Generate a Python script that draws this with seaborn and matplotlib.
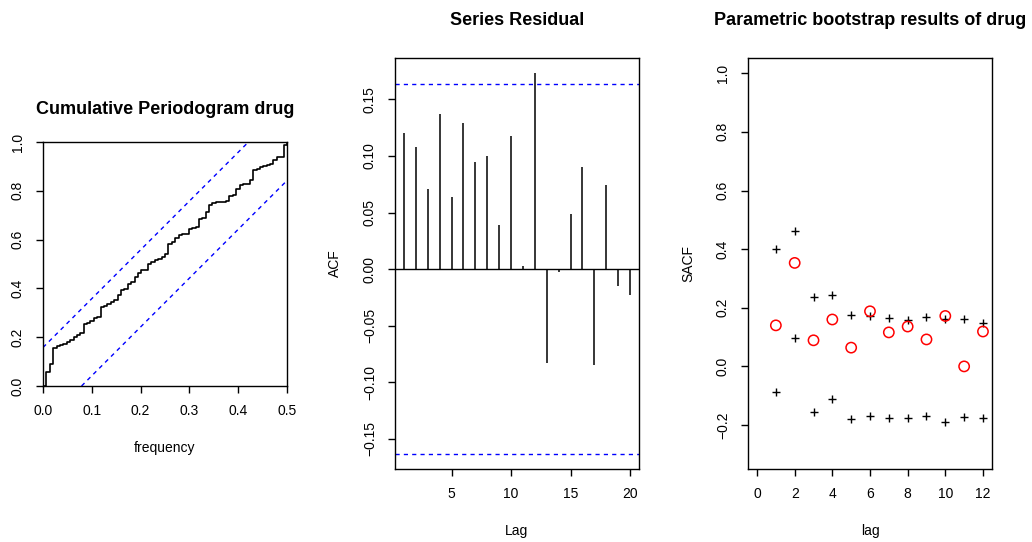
import numpy as np
import pandas as pd
import seaborn as sns
import matplotlib
matplotlib.use('Agg')
import matplotlib.pyplot as plt

# cumulative periodogram (n = 144 -> 72 Fourier frequencies)
n_obs = 144
cum_pgram = [0.059, 0.090, 0.155, 0.162, 0.168, 0.174, 0.180, 0.187, 0.200, 0.208,
             0.216, 0.255, 0.258, 0.268, 0.277, 0.283, 0.323, 0.327, 0.338, 0.346,
             0.352, 0.372, 0.395, 0.397, 0.418, 0.425, 0.448, 0.462, 0.474, 0.476,
             0.500, 0.508, 0.515, 0.522, 0.528, 0.543, 0.580, 0.592, 0.608, 0.617,
             0.622, 0.625, 0.645, 0.648, 0.650, 0.686, 0.690, 0.715, 0.743, 0.750,
             0.753, 0.754, 0.755, 0.757, 0.780, 0.782, 0.806, 0.822, 0.826, 0.828,
             0.845, 0.884, 0.888, 0.896, 0.900, 0.904, 0.908, 0.925, 0.937, 0.940,
             0.988, 1.000]
crit = 0.158

# residual ACF
acf_lags = list(range(1, 21))
acf_vals = [0.120, 0.108, 0.071, 0.137, 0.064, 0.129, 0.095, 0.100, 0.039, 0.118,
            0.003, 0.173, -0.083, -0.003, 0.049, 0.090, -0.085, 0.074, -0.015, -0.023]
acf_clim = 0.1634

# parametric bootstrap SACF
boot_lags = list(range(1, 13))
boot_upper = [0.400, 0.461, 0.236, 0.243, 0.175, 0.172, 0.165, 0.159, 0.169, 0.163, 0.161, 0.149]
boot_lower = [-0.088, 0.097, -0.156, -0.111, -0.180, -0.170, -0.176, -0.176, -0.169, -0.190, -0.173, -0.176]
boot_obs = [0.140, 0.353, 0.089, 0.160, 0.064, 0.188, 0.116, 0.136, 0.092, 0.172, 0.000, 0.119]

sns.set_style("ticks")
plt.rcParams['font.family'] = ['Liberation Sans', 'DejaVu Sans']
plt.rcParams['axes.linewidth'] = 1.0
plt.rcParams['xtick.major.width'] = 1.0
plt.rcParams['ytick.major.width'] = 1.0
plt.rcParams['xtick.color'] = 'black'
plt.rcParams['ytick.color'] = 'black'
plt.rcParams['axes.edgecolor'] = 'black'
plt.rcParams['text.color'] = 'black'
plt.rcParams['axes.labelcolor'] = 'black'

W, H = 1032, 542
fig = plt.figure(figsize=(W / 100, H / 100), dpi=100)
MINUS = '\u2212'


def add_axes(x0, y0, x1, y1):
    return fig.add_axes([x0 / W, 1 - y1 / H, (x1 - x0) / W, (y1 - y0) / H])


def fmt(vals, nd):
    return [f"{v:.{nd}f}".replace('-', MINUS) for v in vals]


def style_axes(ax, title, pad, xlab, xlab_y, ylab=None):
    for sp in ax.spines.values():
        sp.set_visible(True)
        sp.set_color('black')
    ax.tick_params(axis='both', length=5, pad=8, labelsize=10, colors='black')
    for lab in ax.get_yticklabels():
        lab.set_rotation(90)
        lab.set_va('center')
    ax.set_title(title, fontsize=13, fontweight='bold', pad=pad, color='black')
    ax.set_xlabel(xlab, fontsize=10, va='center')
    ax.xaxis.set_label_coords(0.5, xlab_y)
    if ylab:
        ax.set_ylabel(ylab, fontsize=10, va='center')
        ax.yaxis.set_label_coords(-0.246, 0.5)
    else:
        ax.set_ylabel('')


# panel 1: cumulative periodogram
ax1 = add_axes(43, 142, 287, 386)
freq = np.arange(0, len(cum_pgram) + 1) / n_obs
cp = pd.DataFrame({'freq': freq, 'cum': [0.0] + cum_pgram})
sns.lineplot(data=cp, x='freq', y='cum', ax=ax1, color='black', linewidth=1.2,
             drawstyle='steps-post', estimator=None, sort=False)
ax1.plot([0, 0.5 * (1 - crit)], [crit, 1], color='#0000FF', linestyle=(0, (3, 3)), linewidth=1)
ax1.plot([0.5 * crit, 0.5], [0, 1 - crit], color='#0000FF', linestyle=(0, (3, 3)), linewidth=1)
ax1.set_xlim(0, 0.5)
ax1.set_ylim(0, 1)
xt1 = [0.0, 0.1, 0.2, 0.3, 0.4, 0.5]
yt1 = [0.0, 0.2, 0.4, 0.6, 0.8, 1.0]
ax1.set_xticks(xt1)
ax1.set_xticklabels(fmt(xt1, 1))
ax1.set_yticks(yt1)
ax1.set_yticklabels(fmt(yt1, 1))
style_axes(ax1, 'Cumulative Periodogram drug', 20.5, 'frequency', -0.254)

# panel 2: residual ACF
ax2 = add_axes(395, 58, 639, 469)
ax2.vlines(acf_lags, 0, acf_vals, color='black', linewidth=1.1)
ax2.axhline(0, color='black', linewidth=1)
ax2.axhline(acf_clim, color='#0000FF', linestyle=(0, (3, 3)), linewidth=1)
ax2.axhline(-acf_clim, color='#0000FF', linestyle=(0, (3, 3)), linewidth=1)
ax2.set_xlim(0.24, 20.76)
ax2.set_ylim(-0.1767, 0.1866)
yt2 = [-0.15, -0.10, -0.05, 0.0, 0.05, 0.10, 0.15]
ax2.set_xticks([5, 10, 15, 20])
ax2.set_yticks(yt2)
ax2.set_yticklabels(fmt(yt2, 2))
style_axes(ax2, 'Series Residual', 24, 'Lag', -0.151, 'ACF')

# panel 3: bootstrap
ax3 = add_axes(748, 58, 992, 469)
sns.scatterplot(x=boot_lags, y=boot_upper, ax=ax3, marker='+', color='black', s=40, linewidth=1)
sns.scatterplot(x=boot_lags, y=boot_lower, ax=ax3, marker='+', color='black', s=40, linewidth=1)
sns.scatterplot(x=boot_lags, y=boot_obs, ax=ax3, marker='o', facecolor='none',
                edgecolor='#FF0000', s=55, linewidth=1.1)
ax3.set_xlim(-0.48, 12.48)
ax3.set_ylim(-0.35, 1.052)
yt3 = [-0.2, 0.0, 0.2, 0.4, 0.6, 0.8, 1.0]
ax3.set_xticks([0, 2, 4, 6, 8, 10, 12])
ax3.set_yticks(yt3)
ax3.set_yticklabels(fmt(yt3, 1))
style_axes(ax3, 'Parametric bootstrap results of drug', 24, 'lag', -0.151, 'SACF')

fig.savefig('out.png', dpi=100, facecolor='white')
